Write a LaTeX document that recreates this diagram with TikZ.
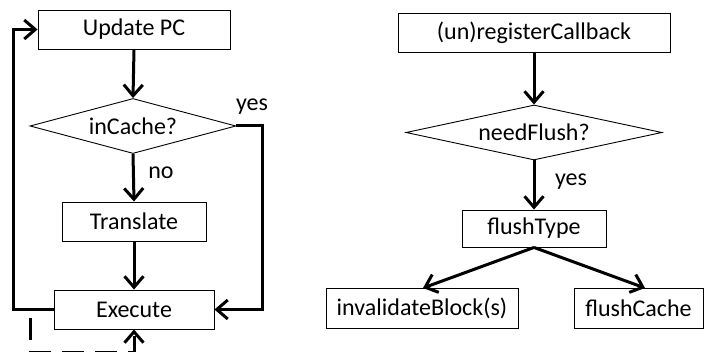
\documentclass[tikz,border=0pt]{standalone}
\usepackage{fontspec}
\setmainfont{Carlito}
\usetikzlibrary{shapes.geometric,arrows.meta}
\begin{document}
\begin{tikzpicture}[x=1pt,y=-1pt,
  font=\fontsize{24}{28}\selectfont,
  box/.style={draw,line width=0.9pt,inner sep=0pt,rectangle},
  decision/.style={draw,line width=0.9pt,diamond,inner sep=0pt},
  flow/.style={line width=3pt,-{Straight Barb[length=11pt,width=19pt,line width=3pt]}},
  plain/.style={line width=3pt}]
\useasboundingbox (0,0) rectangle (709,352);

% left flowchart: execution loop
\node[box,minimum width=192pt,minimum height=39pt] (upd) at (134,29.5) {Update PC};
\node[decision,aspect=3.75,minimum width=206pt,minimum height=55pt] (inc) at (133,126) {inCache?};
\node[box,minimum width=144pt,minimum height=39pt] (tr) at (134,221.5) {Translate};
\node[box,minimum width=160pt,minimum height=39pt] (ex) at (134,309.5) {Execute};

\draw[flow] (upd.south) -- (inc.north);
\draw[flow] (inc.south) -- (tr.north);
\node (no) at (161,173) {no};
\draw[flow] (tr.south) -- (ex.north);
\draw[flow] (inc.east) -- ++(26,0) |- (ex.east);
\node (yesl) at (252,107) {yes};
\draw[flow] (ex.west) -- ++(-40,0) |- (upd.west);

\coordinate (ds) at (30,318);
\draw[flow,dash pattern=on 22pt off 11pt] (ds) -- (30,352) -| (ex.south);

% right flowchart: callback handling
\node[box,minimum width=272pt,minimum height=39pt] (reg) at (534,32.5) {(un)registerCallback};
\node[decision,aspect=4.65,minimum width=256pt,minimum height=55pt] (nf) at (534,132.5) {needFlush?};
\node[box,minimum width=144pt,minimum height=37pt] (ft) at (534,228.5) {flushType};
\node[box,minimum width=192pt,minimum height=40pt] (inv) at (422,308) {invalidateBlock(s)};
\node[box,minimum width=129pt,minimum height=40pt] (fc) at (638.5,308) {flushCache};

\draw[flow] (reg.south) -- (nf.north);
\draw[flow] (nf.south) -- (ft.north);
\node (yesr) at (571,182) {yes};
\draw[flow] (ft.south) -- (423,288);
\draw[flow] (ft.south) -- (645,288);
\end{tikzpicture}
\end{document}
